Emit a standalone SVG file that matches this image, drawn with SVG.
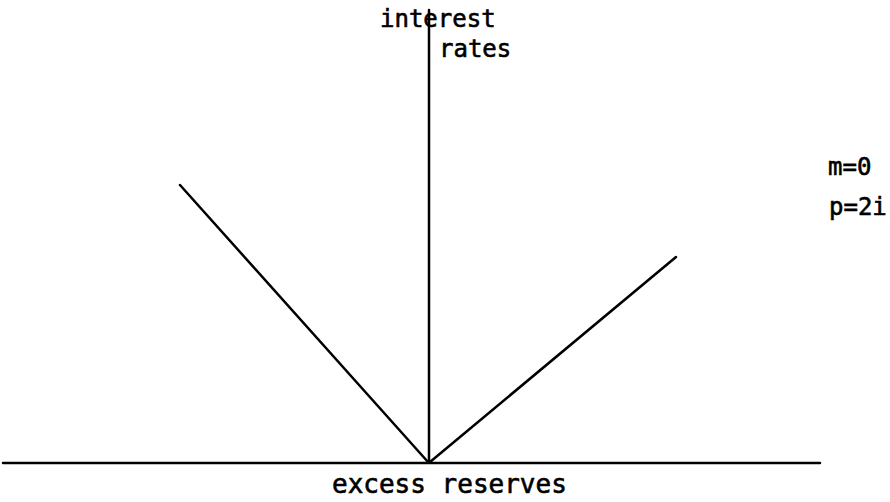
<svg xmlns="http://www.w3.org/2000/svg" width="890" height="502" viewBox="0 0 890 502">
<style>
.ln{stroke:#000;stroke-width:2.5;fill:none;stroke-linecap:round}
.t{font-family:"DejaVu Sans Mono","Liberation Mono",monospace;font-size:24px;fill:#000;stroke:#000;stroke-width:0.6}
</style>
<rect width="890" height="502" fill="#fff"/>
<g id="connectors">
<line class="ln" x1="429" y1="10" x2="429" y2="462"/>
<line class="ln" x1="3" y1="463" x2="820" y2="463"/>
<line class="ln" x1="180" y1="185" x2="428" y2="462"/>
<line class="ln" x1="676" y1="257" x2="430" y2="462"/>
</g>
<g id="labels">
<text class="t" x="380" y="27">interest</text>
<text class="t" x="439" y="57">rates</text>
<text class="t" x="828" y="175">m=0</text>
<text class="t" x="829" y="215">p=2i</text>
<text class="t" x="332" y="493" style="font-size:26px">excess reserves</text>
</g>
</svg>
